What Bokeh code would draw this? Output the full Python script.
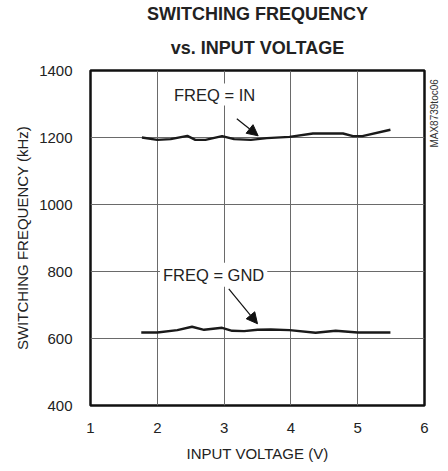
import math
from bokeh.plotting import figure
from bokeh.models import Title, Label, Arrow, NormalHead, FixedTicker, Range1d, LinearAxis
from bokeh.embed import file_html
from bokeh.resources import INLINE

# Data
vin_in = [1.77, 2.0, 2.2, 2.45, 2.57, 2.72, 2.97, 3.15, 3.4, 3.64, 3.98, 4.33, 4.78, 4.93, 5.07, 5.49]
freq_in = [1200, 1193, 1195, 1205, 1193, 1193, 1204, 1195, 1193, 1198, 1202, 1212, 1212, 1204, 1204, 1223]

vin_gnd = [1.76, 2.0, 2.3, 2.52, 2.7, 2.97, 3.12, 3.3, 3.5, 3.7, 3.98, 4.37, 4.67, 5.0, 5.49]
freq_gnd = [618, 618, 625, 635, 626, 632, 623, 622, 626, 627, 625, 617, 623, 618, 618]

x_ticks = [1, 2, 3, 4, 5, 6]
y_ticks = [400, 600, 800, 1000, 1200, 1400]

title_lines = ["SWITCHING FREQUENCY", "vs. INPUT VOLTAGE"]
x_label = "INPUT VOLTAGE (V)"
y_label = "SWITCHING FREQUENCY (kHz)"
code_label = "MAX8739toc06"
code_label_pos = 1170  # kHz level where the rotated code label starts

SANS = "'Liberation Sans', Arial, sans-serif"

p = figure(width=448, height=471, output_backend="svg", toolbar_location=None,
           x_range=Range1d(1, 6), y_range=Range1d(400, 1400),
           min_border_left=90, min_border_right=21, min_border_top=70, min_border_bottom=66)

p.background_fill_color = "white"
p.border_fill_color = "white"
p.outline_line_color = "#111111"
p.outline_line_width = 2.5

# Titles (added inner first)
p.add_layout(Title(text=title_lines[1], align="center", text_font=SANS, text_font_size="18px",
                   text_font_style="bold", text_color="#222222", standoff=25), "above")
p.add_layout(Title(text=title_lines[0], align="center", text_font=SANS, text_font_size="18px",
                   text_font_style="bold", text_color="#222222", standoff=0), "above")

for ax in (p.xaxis[0], p.yaxis[0]):
    ax.axis_line_color = None
    ax.major_tick_line_color = None
    ax.minor_tick_line_color = None
    ax.major_tick_out = 0
    ax.major_tick_in = 0
    ax.minor_tick_out = 0
    ax.minor_tick_in = 0
    ax.major_label_text_font = SANS
    ax.major_label_text_font_size = "15px"
    ax.major_label_text_color = "#222222"
    ax.axis_label_text_font = SANS
    ax.axis_label_text_font_size = "15px"
    ax.axis_label_text_font_style = "normal"
    ax.axis_label_text_color = "#222222"

p.xaxis.ticker = FixedTicker(ticks=x_ticks)
p.yaxis.ticker = FixedTicker(ticks=y_ticks)
p.xaxis.axis_label = x_label
p.yaxis.axis_label = y_label
p.xaxis.major_label_standoff = 17
p.yaxis.major_label_standoff = 18
p.xaxis.axis_label_standoff = 9
p.yaxis.axis_label_standoff = 5

# Right-side code label, drawn as a rotated tick label of an empty axis
rax = LinearAxis(ticker=FixedTicker(ticks=[code_label_pos]),
                 major_label_overrides={code_label_pos: code_label},
                 major_label_orientation=math.pi / 2,
                 axis_line_color=None, major_tick_line_color=None, minor_tick_line_color=None,
                 major_tick_out=0, major_tick_in=0, minor_tick_out=0, minor_tick_in=0,
                 major_label_standoff=10,
                 major_label_text_font=SANS, major_label_text_font_size="10px",
                 major_label_text_color="#333333")
p.add_layout(rax, "right")

p.xgrid.ticker = FixedTicker(ticks=x_ticks)
p.ygrid.ticker = FixedTicker(ticks=y_ticks)
p.grid.grid_line_color = "#6a6a6a"
p.grid.grid_line_width = 1

# Curves
p.line(vin_in, freq_in, line_color="#1a1a1a", line_width=2.4)
p.line(vin_gnd, freq_gnd, line_color="#1a1a1a", line_width=2.4)

# Annotations
p.add_layout(Label(x=2.22, y=1328, text="FREQ = IN", text_font=SANS, text_font_size="16.5px",
                   text_color="#222222", text_baseline="middle",
                   background_fill_color="white", padding=2))
p.add_layout(Arrow(x_start=3.19, y_start=1256, x_end=3.51, y_end=1205, line_width=1.2,
                   line_color="#111111",
                   end=NormalHead(size=11, fill_color="#111111", line_color="#111111")))

p.add_layout(Label(x=2.04, y=790, text="FREQ = GND", text_font=SANS, text_font_size="16.5px",
                   text_color="#222222", text_baseline="middle",
                   background_fill_color="white", padding=3))
p.add_layout(Arrow(x_start=3.07, y_start=748, x_end=3.5, y_end=644, line_width=1.2,
                   line_color="#111111",
                   end=NormalHead(size=11, fill_color="#111111", line_color="#111111")))

open("out.html", "w").write(file_html(p, INLINE))
